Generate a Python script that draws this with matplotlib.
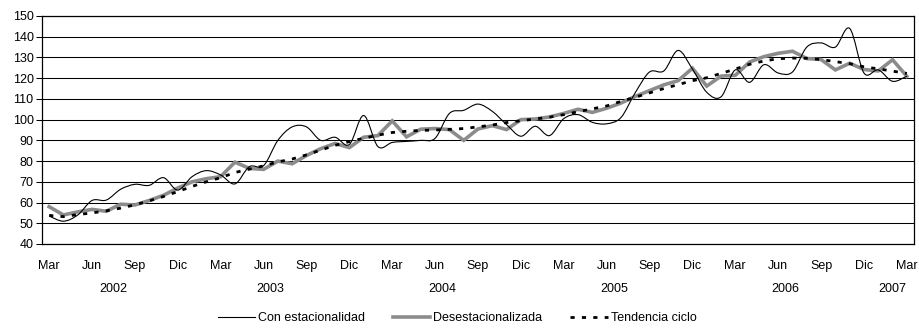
import numpy as np
import matplotlib.pyplot as plt
from matplotlib.path import Path
from matplotlib.patches import PathPatch
from matplotlib.lines import Line2D
import matplotlib.transforms as mtransforms

plt.rcParams['font.family'] = ['Liberation Sans', 'DejaVu Sans']

# monthly series, Mar 2002 .. Mar 2007
con_estacionalidad = [
    53.5, 51.0, 54.0, 61.0, 61.2, 66.4, 68.8, 68.3, 72.0, 66.0,
    72.5, 75.4, 73.3, 69.0, 77.3, 77.8, 90.0, 96.5, 96.5, 90.0,
    91.5, 88.0, 102.0, 87.0, 89.0, 89.5, 90.0, 91.0, 103.0, 104.5,
    107.5, 104.0, 97.6, 92.0, 96.8, 92.3, 100.5, 102.4, 98.7, 98.0,
    101.0, 113.0, 123.0, 123.5, 133.4, 124.4, 113.2, 111.0, 124.0, 118.0,
    126.5, 122.5, 123.0, 135.0, 137.0, 135.0, 144.0, 122.5, 124.0, 118.5,
    121.0]
desestacionalizada = [
    58.0, 54.0, 55.5, 56.7, 55.8, 59.2, 58.8, 61.0, 63.5, 67.0,
    70.0, 71.5, 72.5, 79.5, 76.5, 76.0, 80.0, 78.7, 82.7, 86.0,
    88.5, 86.5, 91.5, 92.3, 99.4, 91.7, 95.4, 95.7, 95.2, 90.0,
    95.5, 97.1, 95.2, 100.0, 100.3, 101.3, 103.0, 105.0, 103.5, 105.5,
    108.0, 111.2, 114.0, 116.8, 118.8, 124.8, 116.2, 121.0, 121.4, 127.8,
    130.4, 132.0, 133.0, 129.5, 129.0, 124.0, 127.2, 124.2, 123.5, 128.9,
    120.9]
tendencia_ciclo = [
    53.8, 53.2, 54.2, 55.0, 56.0, 57.3, 58.9, 60.8, 62.9, 65.3,
    67.8, 70.0, 72.0, 74.5, 76.1, 77.7, 79.6, 81.0, 83.0, 85.3,
    87.6, 89.4, 91.0, 92.5, 93.8, 94.4, 94.8, 95.0, 95.3, 95.7,
    96.5, 97.4, 98.6, 99.5, 100.3, 101.2, 102.4, 103.8, 105.2, 106.6,
    108.8, 110.8, 112.9, 115.0, 116.9, 118.8, 120.2, 122.3, 124.4, 126.7,
    128.3, 129.4, 129.7, 129.6, 129.0, 128.0, 127.0, 125.5, 124.5, 123.4,
    122.3]
meses = ["Mar", "Jun", "Sep", "Dic"]
anios = ["2002", "2003", "2004", "2005", "2006", "2007"]
# first and last month index of each year
anio_rango = [(0, 9), (10, 21), (22, 33), (34, 45), (46, 57), (58, 60)]

x = np.arange(len(desestacionalizada))


def smooth_path(xs, ys):
    # cubic bezier through every point (Catmull-Rom style control points)
    pts = np.column_stack([xs, ys]).astype(float)
    n = len(pts)
    verts = [pts[0]]
    codes = [Path.MOVETO]
    for i in range(n - 1):
        p0 = pts[i - 1] if i > 0 else pts[i]
        p1 = pts[i]
        p2 = pts[i + 1]
        p3 = pts[i + 2] if i + 2 < n else pts[i + 1]
        c1 = p1 + (p2 - p0) / 6.0
        c2 = p2 - (p3 - p1) / 6.0
        verts += [c1, c2, p2]
        codes += [Path.CURVE4] * 3
    return Path(verts, codes)


fig = plt.figure(figsize=(9.19, 3.29), dpi=100)
ax = fig.add_axes([42 / 919, 1 - 244 / 329, 872 / 919, 228 / 329])

ax.set_xlim(-0.5, len(x) - 0.5)
ax.set_ylim(40, 150)
ax.set_yticks(np.arange(40, 151, 10))
ax.yaxis.grid(True, color="black", lw=0.75)
ax.set_axisbelow(True)
for s in ax.spines.values():
    s.set_linewidth(0.9)
    s.set_color("black")

ax.plot(x, desestacionalizada, color="#8c8c8c", lw=2.6, solid_joinstyle="miter", zorder=2)
ax.add_patch(PathPatch(smooth_path(x, con_estacionalidad), fill=False,
                       edgecolor="black", lw=0.8, zorder=3))
ax.plot(x, tendencia_ciclo, color="black", lw=2.0, linestyle=(0, (1.5, 2.6)), zorder=4)

ax.set_xticks(np.arange(0, len(x), 3))
ax.set_xticklabels([meses[k % 4] for k in range(len(ax.get_xticks()))])
ax.tick_params(axis="x", length=0, pad=11.5, labelsize=9)
ax.tick_params(axis="y", length=4, width=0.75, direction="out", pad=2, labelsize=9)

trans = mtransforms.blended_transform_factory(ax.transData, ax.transAxes)
for nombre, (a, b) in zip(anios, anio_rango):
    ax.text((a + b) / 2, -0.197, nombre, transform=trans, ha="center", va="center", fontsize=9)

handles = [
    Line2D([], [], color="black", lw=0.8),
    Line2D([], [], color="#8c8c8c", lw=2.6),
    Line2D([], [], color="black", lw=2.0, linestyle=(0, (1.5, 2.6))),
]
etiquetas = ["Con estacionalidad", "Desestacionalizada", "Tendencia ciclo"]
fig.legend(handles, etiquetas, loc="center", bbox_to_anchor=(457 / 919, 1 - 318 / 329),
           ncol=3, frameon=False, fontsize=9, handlelength=3.0, handletextpad=0.25,
           columnspacing=2.2)

fig.savefig("out.png", dpi=100)
